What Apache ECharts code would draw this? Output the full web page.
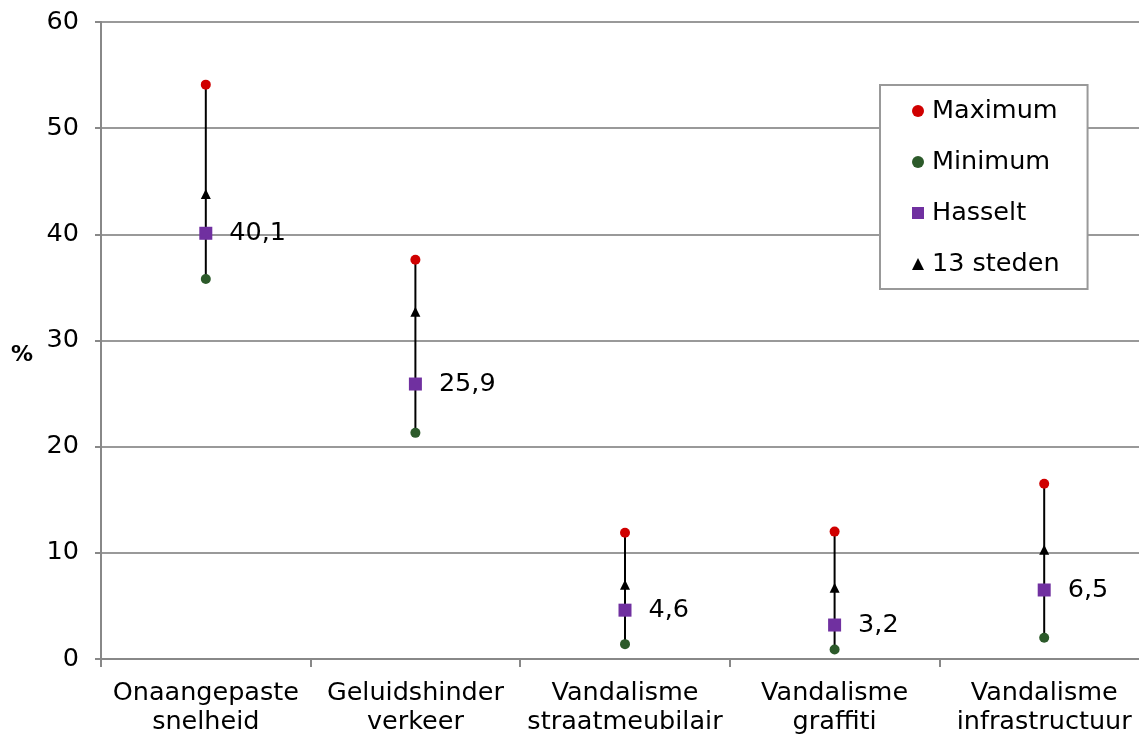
<!DOCTYPE html>
<html>
<head>
<meta charset="utf-8">
<script src="https://cdn.jsdelivr.net/npm/echarts@6/dist/echarts.min.js"></script>
<style>html,body{margin:0;padding:0;background:#fff;overflow:hidden}#c{width:1150px;height:737px}</style>
</head>
<body>
<div id="c"></div>
<script>
const categories = ['Onaangepaste\nsnelheid', 'Geluidshinder\nverkeer', 'Vandalisme\nstraatmeubilair', 'Vandalisme\ngraffiti', 'Vandalisme\ninfrastructuur'];
const maximum = [54.1, 37.6, 11.9, 12.0, 16.5];
const minimum = [35.8, 21.3, 1.4, 0.9, 2.0];
const hasselt = [40.1, 25.9, 4.6, 3.2, 6.5];
const steden13 = [43.8, 32.7, 7.0, 6.7, 10.3];
const yTicks = [0, 10, 20, 30, 40, 50, 60];

const FONT = 'DejaVu Sans';
const FS = 25.5;
const chart = echarts.init(document.getElementById('c'), null, {renderer: 'canvas'});
const rangeData = categories.map((c, i) => [i, minimum[i], maximum[i]]);

chart.setOption({
  animation: false,
  textStyle: {fontFamily: FONT, color: '#000'},
  grid: {left: 101, right: 1, top: 22, bottom: 77, containLabel: false},
  legend: {
    orient: 'vertical',
    left: 880, top: 85,
    padding: [13, 28, 12, 32],
    itemGap: 25,
    itemWidth: 12, itemHeight: 12,
    itemSymbolKeepAspect: true,
    borderColor: '#999', borderWidth: 2,
    backgroundColor: '#fff',
    textStyle: {fontFamily: FONT, fontSize: FS, color: '#000', padding: [0, 0, 0, 3]},
    data: [
      {name: 'Maximum', icon: 'circle'},
      {name: 'Minimum', icon: 'circle'},
      {name: 'Hasselt', icon: 'rect'},
      {name: '13 steden', icon: 'triangle'}
    ]
  },
  graphic: [{
    type: 'text', left: 11, top: 344,
    style: {text: '%', font: 'bold 22px "DejaVu Sans"', fill: '#000'}
  }],
  xAxis: {
    type: 'category',
    data: categories,
    boundaryGap: true,
    axisLine: {lineStyle: {color: '#888', width: 2}},
    axisTick: {show: true, length: 8, lineStyle: {color: '#888', width: 2}},
    axisLabel: {fontFamily: FONT, fontSize: FS, color: '#000', lineHeight: 29, margin: 20, interval: 0}
  },
  yAxis: {
    type: 'value',
    min: yTicks[0], max: yTicks[yTicks.length - 1], interval: 10,
    axisLine: {show: true, lineStyle: {color: '#888', width: 2}},
    axisTick: {show: true, length: 6, lineStyle: {color: '#888', width: 2}},
    axisLabel: {fontFamily: FONT, fontSize: FS, color: '#000', margin: 22},
    splitLine: {lineStyle: {color: '#999', width: 2}}
  },
  series: [
    {
      type: 'custom',
      name: 'range',
      data: rangeData,
      encode: {x: 0, y: [1, 2]},
      z: 1,
      renderItem: function (params, api) {
        const p1 = api.coord([api.value(0), api.value(1)]);
        const p2 = api.coord([api.value(0), api.value(2)]);
        return {type: 'line', shape: {x1: p1[0], y1: p1[1], x2: p2[0], y2: p2[1]}, style: {stroke: '#000', lineWidth: 2}};
      }
    },
    {name: 'Maximum', type: 'scatter', data: maximum, symbol: 'circle', symbolSize: 10, itemStyle: {color: '#d00000', opacity: 1}, z: 3},
    {name: 'Minimum', type: 'scatter', data: minimum, symbol: 'circle', symbolSize: 10, itemStyle: {color: '#2c5a2a', opacity: 1}, z: 3},
    {name: 'Hasselt', type: 'scatter', data: hasselt, symbol: 'rect', symbolSize: 13, itemStyle: {color: '#7030a0', opacity: 1}, z: 4,
      label: {show: true, position: 'right', distance: 17, fontFamily: FONT, fontSize: FS, color: '#000',
        formatter: p => String(p.value).replace('.', ',')}},
    {name: '13 steden', type: 'scatter', data: steden13, symbol: 'triangle', symbolSize: [10, 10], itemStyle: {color: '#000', opacity: 1}, z: 3}
  ]
});
</script>
</body>
</html>
